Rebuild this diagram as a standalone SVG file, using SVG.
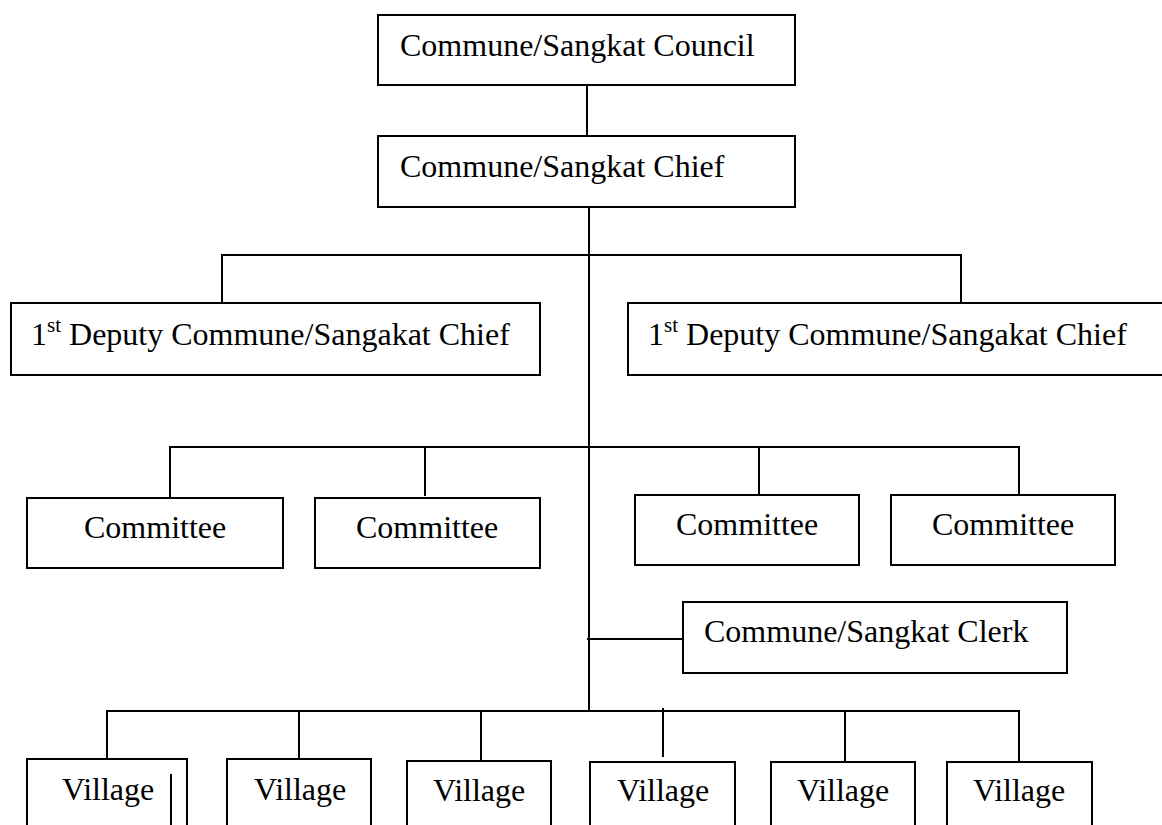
<svg xmlns="http://www.w3.org/2000/svg" width="1162" height="825" viewBox="0 0 1162 825">
<style>
.box{fill:#fff;stroke:#000;stroke-width:2}
.ln{stroke:#000;stroke-width:2;fill:none}
text{font-family:"Liberation Serif","Times New Roman",serif;font-size:32px;fill:#000}
.sup{font-size:21px}
</style>
<rect width="1162" height="825" fill="#fff"/>
<g id="connectors">
<line class="ln" x1="587" y1="86" x2="587" y2="136"/>
<line class="ln" x1="589" y1="204" x2="589" y2="712"/>
<polyline class="ln" points="222,303 222,255 961,255 961,303"/>
<polyline class="ln" points="170,497 170,447 1019,447 1019,495"/>
<line class="ln" x1="425" y1="447" x2="425" y2="496"/>
<line class="ln" x1="759" y1="447" x2="759" y2="497"/>
<line class="ln" x1="587" y1="639" x2="683" y2="639"/>
<polyline class="ln" points="107,759 107,711 1019,711 1019,761"/>
<line class="ln" x1="299" y1="711" x2="299" y2="759"/>
<line class="ln" x1="481" y1="711" x2="481" y2="761"/>
<line class="ln" x1="663" y1="708" x2="663" y2="757"/>
<line class="ln" x1="845" y1="711" x2="845" y2="761"/>
</g>
<g id="council"><rect class="box" x="378" y="15" width="417" height="70"/><text x="400" y="56">Commune/Sangkat Council</text></g>
<g id="chief"><rect class="box" x="378" y="136" width="417" height="71"/><text x="400" y="177">Commune/Sangkat Chief</text></g>
<g id="deputy1"><rect class="box" x="11" y="303" width="529" height="72"/><text x="31" y="345">1<tspan class="sup" dy="-13">st</tspan><tspan dy="13"> Deputy Commune/Sangakat Chief</tspan></text></g>
<g id="deputy2"><rect class="box" x="628" y="303" width="545" height="72"/><text x="648" y="345">1<tspan class="sup" dy="-13">st</tspan><tspan dy="13"> Deputy Commune/Sangakat Chief</tspan></text></g>
<g id="committee1"><rect class="box" x="27" y="498" width="256" height="70"/><text x="84" y="538">Committee</text></g>
<g id="committee2"><rect class="box" x="315" y="498" width="225" height="70"/><text x="356" y="538">Committee</text></g>
<g id="committee3"><rect class="box" x="635" y="495" width="224" height="70"/><text x="676" y="535">Committee</text></g>
<g id="committee4"><rect class="box" x="891" y="495" width="224" height="70"/><text x="932" y="535">Committee</text></g>
<g id="clerk"><rect class="box" x="683" y="602" width="384" height="71"/><text x="704" y="642">Commune/Sangkat Clerk</text></g>
<g id="village1"><rect class="box" x="27" y="759" width="160" height="90"/><text x="62" y="800">Village</text><line class="ln" x1="171" y1="774" x2="171" y2="825"/></g>
<g id="village2"><rect class="box" x="227" y="759" width="144" height="90"/><text x="254" y="800">Village</text></g>
<g id="village3"><rect class="box" x="407" y="761" width="144" height="90"/><text x="433" y="801">Village</text></g>
<g id="village4"><rect class="box" x="590" y="762" width="145" height="90"/><text x="617" y="801">Village</text></g>
<g id="village5"><rect class="box" x="771" y="762" width="144" height="90"/><text x="797" y="801">Village</text></g>
<g id="village6"><rect class="box" x="947" y="762" width="145" height="90"/><text x="973" y="801">Village</text></g>
</svg>
